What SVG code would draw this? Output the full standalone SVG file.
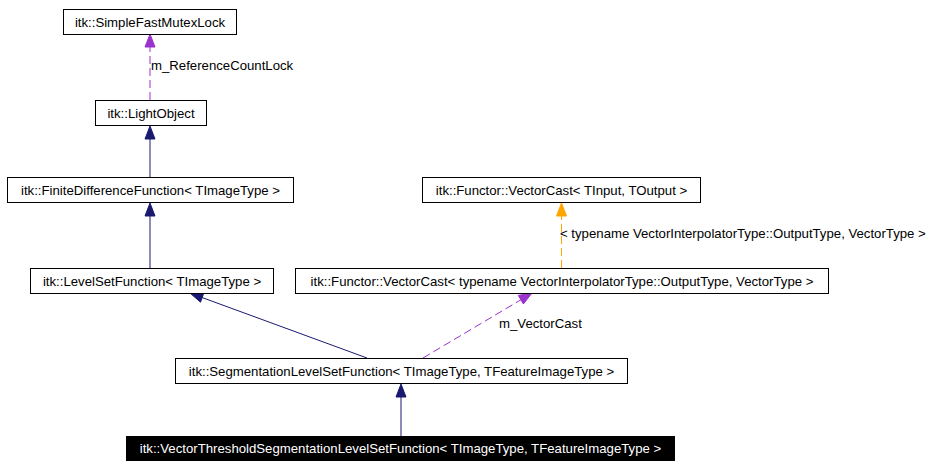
<svg xmlns="http://www.w3.org/2000/svg" width="940" height="468" viewBox="0 0 940 468">
<style>
  text { font-family: "Liberation Sans", Arial, Helvetica, sans-serif; font-size: 13.2px; fill: #000; }
  .box { fill: #fff; stroke: #000; stroke-width: 1; }
  .dark { fill: #000; stroke: #000; stroke-width: 1; }
  .nav { stroke: #191970; stroke-width: 1; fill: none; }
  .pur { stroke: #9a32cd; stroke-width: 1; fill: none; stroke-dasharray: 8,4; }
  .org { stroke: #ffa500; stroke-width: 1; fill: none; stroke-dasharray: 8,4; }
  .hn { fill: #191970; stroke: #191970; }
  .hp { fill: #9a32cd; stroke: #9a32cd; }
  .ho { fill: #ffa500; stroke: #ffa500; }
</style>
<rect width="940" height="468" fill="#fff"/>
<g id="connectors">
  <line class="pur" x1="150" y1="100" x2="150" y2="47"/>
  <polygon class="hp" points="150,34 155,47 145,47"/>
  <text x="151" y="70">m_ReferenceCountLock</text>

  <line class="nav" x1="150" y1="177" x2="150" y2="139"/>
  <polygon class="hn" points="150,126 155,139 145,139"/>

  <line class="nav" x1="150" y1="268" x2="150" y2="216"/>
  <polygon class="hn" points="150,203 155,216 145,216"/>

  <line class="nav" x1="367" y1="358" x2="202" y2="297.5"/>
  <polygon class="hn" points="190,293 203.9,292.8 200.5,302.2"/>

  <line class="pur" x1="423" y1="358" x2="521" y2="299.7"/>
  <polygon class="hp" points="532,293 523.4,304 518.3,295.4"/>
  <text x="499" y="328">m_VectorCast</text>

  <line class="org" x1="561.5" y1="268" x2="561.5" y2="216"/>
  <polygon class="ho" points="561.5,203 566.5,216 556.5,216"/>
  <text x="560" y="238">&lt; typename VectorInterpolatorType::OutputType, VectorType &gt;</text>

  <line class="nav" x1="401" y1="436" x2="401" y2="397"/>
  <polygon class="hn" points="401,384 406,397 396,397"/>
</g>
<g id="node1">
  <rect class="box" x="63.5" y="9.5" width="173" height="25"/>
  <text x="150" y="26.5" text-anchor="middle">itk::SimpleFastMutexLock</text>
</g>
<g id="node2">
  <rect class="box" x="95.5" y="100.5" width="111" height="25"/>
  <text x="151" y="117.5" text-anchor="middle">itk::LightObject</text>
</g>
<g id="node3">
  <rect class="box" x="7.5" y="177.5" width="286" height="25"/>
  <text x="150.5" y="194.5" text-anchor="middle">itk::FiniteDifferenceFunction&lt; TImageType &gt;</text>
</g>
<g id="node4">
  <rect class="box" x="30.5" y="268.5" width="243" height="25"/>
  <text x="152" y="285.5" text-anchor="middle">itk::LevelSetFunction&lt; TImageType &gt;</text>
</g>
<g id="node5">
  <rect class="box" x="422.5" y="177.5" width="278" height="25"/>
  <text x="561.5" y="194.5" text-anchor="middle">itk::Functor::VectorCast&lt; TInput, TOutput &gt;</text>
</g>
<g id="node6">
  <rect class="box" x="295.5" y="268.5" width="533" height="25"/>
  <text x="562" y="285.5" text-anchor="middle">itk::Functor::VectorCast&lt; typename VectorInterpolatorType::OutputType, VectorType &gt;</text>
</g>
<g id="node7">
  <rect class="box" x="175.5" y="358.5" width="452" height="25"/>
  <text x="401.5" y="375.5" text-anchor="middle">itk::SegmentationLevelSetFunction&lt; TImageType, TFeatureImageType &gt;</text>
</g>
<g id="node8">
  <rect class="dark" x="126.5" y="436.5" width="548" height="24"/>
  <text x="400.5" y="453" text-anchor="middle" style="fill:#fff">itk::VectorThresholdSegmentationLevelSetFunction&lt; TImageType, TFeatureImageType &gt;</text>
</g>
</svg>
